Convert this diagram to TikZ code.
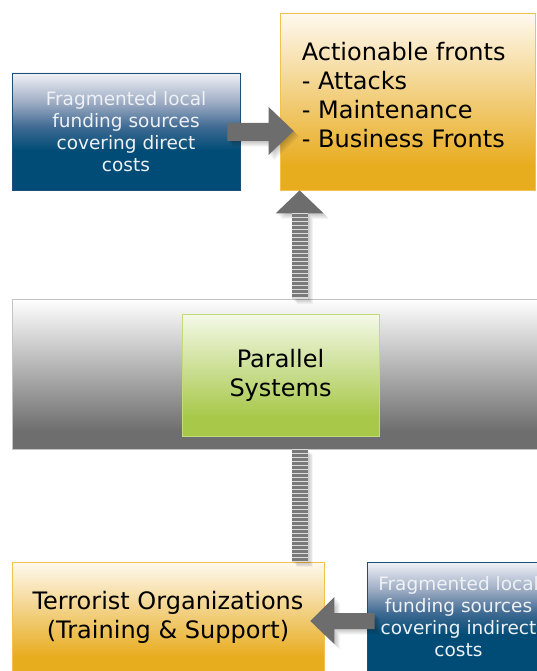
\documentclass[tikz,border=0pt]{standalone}
\usepackage{fontspec}
\setmainfont{DejaVu Sans}
\usetikzlibrary{calc}
\definecolor{blueD}{HTML}{004C76}
\definecolor{blueM}{HTML}{3F6A92}
\definecolor{blueN}{HTML}{9AA9C1}
\definecolor{blueL}{HTML}{F1F2F7}
\definecolor{blueB}{HTML}{1A4F78}
\definecolor{blueT}{HTML}{EEF1F5}
\definecolor{orD}{HTML}{E8AC1F}
\definecolor{orL}{HTML}{FEF9F0}
\definecolor{orB}{HTML}{F2C14E}
\definecolor{grD}{HTML}{A8C84A}
\definecolor{grL}{HTML}{F4F9E8}
\definecolor{grB}{HTML}{C3DC7A}
\definecolor{gyD}{HTML}{6E6E6E}
\definecolor{gyL}{HTML}{FFFFFF}
\definecolor{gyB}{HTML}{C4C4C4}
\definecolor{arrowc}{HTML}{6D6D6D}
\definecolor{stripeD}{HTML}{7A7A7A}
\definecolor{stripeL}{HTML}{DCDCDC}
\pgfdeclareverticalshading{blueshade}{100bp}{color(0bp)=(blueD); color(25bp)=(blueD); color(42bp)=(blueD); color(52bp)=(blueM); color(62bp)=(blueN); color(75bp)=(blueL); color(100bp)=(blueL)}
\pgfdeclareverticalshading{orshade}{100bp}{color(0bp)=(orD); color(25bp)=(orD); color(32bp)=(orD); color(75bp)=(orL); color(100bp)=(orL)}
\pgfdeclareverticalshading{grshade}{100bp}{color(0bp)=(grD); color(25bp)=(grD); color(33bp)=(grD); color(75bp)=(grL); color(100bp)=(grL)}
\pgfdeclareverticalshading{gyshade}{100bp}{color(0bp)=(gyD); color(25bp)=(gyD); color(31bp)=(gyD); color(75bp)=(gyL); color(100bp)=(gyL)}
\tikzset{
  box/.style={rectangle, inner sep=0pt, shade, line width=0.8pt},
  bluebox/.style={box, shading=blueshade, draw=blueB, text=blueT, font=\fontsize{18.5}{22}\selectfont, align=center},
  orbox/.style={box, shading=orshade, draw=orB},
  grbox/.style={box, shading=grshade, draw=grB, font=\fontsize{24}{29}\selectfont, align=center},
  bandbox/.style={box, shading=gyshade, draw=gyB},
  bigtext/.style={font=\fontsize{24}{29}\selectfont},
  arrowfill/.style={fill=arrowc},
  shadowfill/.style={fill=black, fill opacity=0.035},
  stripebg/.style={fill=stripeL},
  stripebar/.style={fill=stripeD},
}
\newcommand\softshadow[1]{\foreach \d in {1,...,7}{\begin{scope}[transform canvas={shift={(\d*0.8pt,-\d*0.8pt)}}]#1{shadowfill}\end{scope}}}
\newcommand\arrowA[1]{\fill[#1] ($(a1s)+(0,-9)$) -- ($(a1t)+(-25,-8)$) -- ($(a1t)+(-25,-24)$) -- (a1t) -- ($(a1t)+(-25,24)$) -- ($(a1t)+(-25,10)$) -- ($(a1s)+(0,9)$) -- cycle;}
\newcommand\arrowB[1]{\fill[#1] (a2t) -- ($(a2t)+(24,23)$) -- ($(a2t)+(8,23)$) -- ($(a2t |- band.north)+(8,0)$) -- ($(a2t |- band.north)+(-8,0)$) -- ($(a2t)+(-8,23)$) -- ($(a2t)+(-24,23)$) -- cycle;}
\newcommand\arrowC[1]{\fill[#1] ($(a2t |- band.south)+(-8,0)$) rectangle ($(a2t |- terror.north)+(8,0)$);}
\newcommand\arrowD[1]{\fill[#1] ($(a3s)+(0,-8)$) -- ($(a3t)+(24,-8)$) -- ($(a3t)+(24,-24)$) -- (a3t) -- ($(a3t)+(24,23)$) -- ($(a3t)+(24,8)$) -- ($(a3s)+(0,8)$) -- cycle;}
\begin{document}
\begin{tikzpicture}[x=1pt,y=-1pt]
\useasboundingbox (0,0) rectangle (537,671);
\clip (0,0) rectangle (537,671);
% boxes
\node[bandbox, minimum width=548pt, minimum height=150pt] (band) at (286,374) {};
\node[grbox, minimum width=197pt, minimum height=122pt] (parallel) at (280.5,375) {Parallel\\Systems};
\node[bluebox, minimum width=228pt, minimum height=117pt] (fundA) at (126,131.5) {Fragmented local\\funding sources\\covering direct\\costs};
\node[orbox, minimum width=255pt, minimum height=177pt] (fronts) at (407.5,101.5) {};
\node[bigtext, anchor=north west, inner sep=0pt, align=left] (frontsText) at ($(fronts.north west)+(22,29)$) {Actionable fronts\\- Attacks\\- Maintenance\\- Business Fronts};
\node[orbox, bigtext, align=center, minimum width=312pt, minimum height=110pt] (terror) at (168,617) {Terrorist Organizations\\(Training \& Support)};
\node[bluebox, minimum width=183pt, minimum height=110pt] (fundB) at (458.5,617) {Fragmented local\\funding sources\\covering indirect\\costs};
% key points of the connectors
\coordinate (a1s) at ($(fundA.east)+(-13,0.5)$);
\coordinate (a1t) at ($(fronts.west |- a1s)+(14,-1)$);
\coordinate (a2t) at ($(fronts.south west)+(20,0)$);
\coordinate (a3t) at ($(terror.east)+(-14,4)$);
\coordinate (a3s) at ($(fundB.west)+(8,4)$);
% shadows
\softshadow{\arrowA}
\softshadow{\arrowB}
\softshadow{\arrowC}
\softshadow{\arrowD}
% funding -> fronts
\arrowA{arrowfill}
% parallel systems -> fronts (striped)
\fill[arrowfill] (a2t) -- ($(a2t)+(24,23)$) -- ($(a2t)+(-24,23)$) -- cycle;
\fill[stripebg] ($(a2t)+(-8,23)$) rectangle ($(a2t |- band.north)+(8,0)$);
\foreach \k in {0,...,20}{\fill[stripebar] ($(a2t)+(-8,24+4*\k)$) rectangle ++(16,2.5);}
% terrorist organizations -> parallel systems (striped)
\fill[stripebg] ($(a2t |- band.south)+(-8,0)$) rectangle ($(a2t |- terror.north)+(8,0)$);
\foreach \k in {0,...,27}{\fill[stripebar] ($(a2t |- band.south)+(-8,1+4*\k)$) rectangle ++(16,2.5);}
% funding -> terrorist organizations
\arrowD{arrowfill}
\end{tikzpicture}
\end{document}
